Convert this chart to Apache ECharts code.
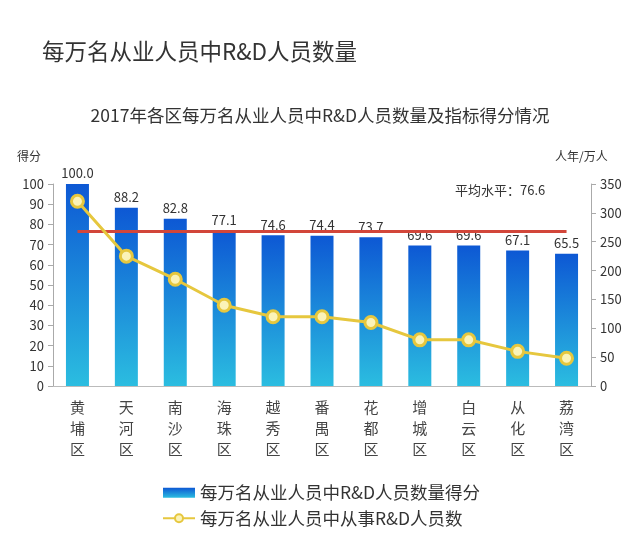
<!DOCTYPE html>
<html><head><meta charset="utf-8">
<script src="https://cdn.jsdelivr.net/npm/echarts@6/dist/echarts.min.js"></script>
<style>html,body{margin:0;padding:0;background:#fff}#c{width:640px;height:543px}</style>
</head><body><div id="c"></div>
<script>
const categories = ['黄埔区','天河区','南沙区','海珠区','越秀区','番禺区','花都区','增城区','白云区','从化区','荔湾区'];
const scores = [100.0, 88.2, 82.8, 77.1, 74.6, 74.4, 73.7, 69.6, 69.6, 67.1, 65.5];
const staff = [320, 225, 185, 140, 120, 120, 110, 80, 80, 60, 48];
const average = 76.6;
const barName = '每万名从业人员中R&D人员数量得分';
const lineName = '每万名从业人员中从事R&D人员数';

const font = '"Noto Sans CJK SC", "Noto Sans", sans-serif';
const chart = echarts.init(document.getElementById('c'));
const grad = new echarts.graphic.LinearGradient(0,0,0,1,[{offset:0,color:'#0d58d4'},{offset:1,color:'#2bbde0'}]);
chart.setOption({
  backgroundColor:'#fff',
  textStyle:{fontFamily:font},
  title:[
    {text:'每万名从业人员中R&D人员数量', left:37, top:35, textStyle:{fontSize:22.5, fontWeight:'normal', color:'#333', fontFamily:font}},
    {text:'2017年各区每万名从业人员中R&D人员数量及指标得分情况', left:'center', top:102, textStyle:{fontSize:17.5, fontWeight:'normal', color:'#333', fontFamily:font}}
  ],
  graphic:[
    {type:'text', left:455, top:184, style:{text:'平均水平：76.6', fontSize:13, fill:'#333', fontFamily:font}},
    {type:'text', left:17, top:150, style:{text:'得分', fontSize:12, fill:'#333', fontFamily:font}},
    {type:'text', left:555, top:150, style:{text:'人年/万人', fontSize:12, fill:'#333', fontFamily:font}}
  ],
  legend:{
    orient:'vertical', left:157, top:479, itemGap:8, itemWidth:32, itemHeight:10,
    textStyle:{fontSize:17.5, color:'#333', fontFamily:font},
    data:[{name:barName, icon:'rect'}, {name:lineName}]
  },
  grid:{left:53, right:49, top:184, bottom:157},
  xAxis:{
    type:'category', data:categories,
    axisLine:{lineStyle:{color:'#bbb'}}, axisTick:{show:false},
    axisLabel:{fontSize:15, color:'#444', lineHeight:21, margin:11, interval:0,
      formatter:v=>v.split('').join('\n')}
  },
  yAxis:[
    {type:'value', min:0, max:100, interval:10,
     axisLine:{show:true, lineStyle:{color:'#aaa'}}, axisTick:{show:true, length:5, lineStyle:{color:'#aaa'}},
     axisLabel:{fontSize:13, color:'#333', margin:9}, splitLine:{show:false}},
    {type:'value', min:0, max:350, interval:50,
     axisLine:{show:true, lineStyle:{color:'#aaa'}}, axisTick:{show:true, length:5, lineStyle:{color:'#aaa'}},
     axisLabel:{fontSize:13, color:'#333', margin:9}, splitLine:{show:false}}
  ],
  series:[
    {name:barName, type:'bar', data:scores, barWidth:23, yAxisIndex:0,
     itemStyle:{color:grad},
     label:{show:true, position:'top', fontSize:13, color:'#333', distance:4, formatter:p=>p.value.toFixed(1)},
     markLine:{silent:true, symbol:'none', label:{show:false},
       lineStyle:{color:'#d2463a', width:3, type:'solid'},
       data:[[{xAxis:0, yAxis:average},{xAxis:10, yAxis:average}]]}
    },
    {name:lineName, type:'line', data:staff, yAxisIndex:1, z:5,
     lineStyle:{color:'#e6c73e', width:3}, symbol:'circle', symbolSize:12,
     itemStyle:{color:'#fbf3b8', borderColor:'#e6c73e', borderWidth:3}}
  ]
});
</script></body></html>
